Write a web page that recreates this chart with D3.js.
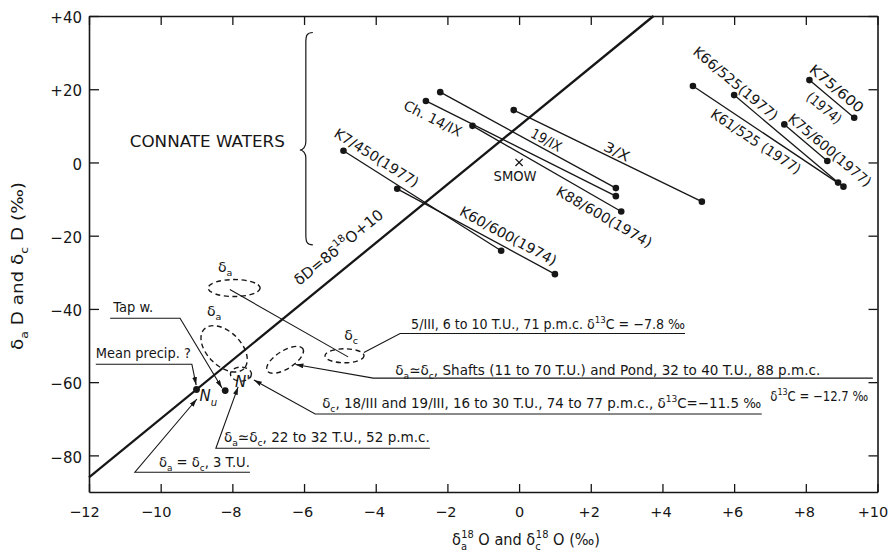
<!DOCTYPE html>
<html>
<head>
<meta charset="utf-8">
<script src="https://cdn.jsdelivr.net/npm/d3@7/dist/d3.min.js"></script>
<style>
  html, body { margin: 0; padding: 0; background: #fff; }
  svg { display: block; }
</style>
</head>
<body>
<svg id="chart" width="889" height="553"></svg>
<script>
// ---- axis ticks ----
const xTicks = [-12, -10, -8, -6, -4, -2, 0, 2, 4, 6, 8, 10];
const xTickLabels = ["−12", "−10", "−8", "−6", "−4", "−2", "0", "+2", "+4", "+6", "+8", "+10"];
const yTicks = [-80, -60, -40, -20, 0, 20, 40];
const yTickLabels = ["−80", "−60", "−40", "−20", "0", "+20", "+40"];

// ---- paired samples: (δ18O, δD) of the two members joined by a tie line ----
const sampleNames = ["19/IX", "Ch. 14/IX", "K88/600(1974)", "3/X", "K7/450(1977)", "K60/600(1974)",
                     "K66/525(1977)", "K61/525 (1977)", "K75/600(1977)", "K75/600 (1974)"];
const firstO  = [-2.2, -2.6, -1.3, -0.15, -4.9, -3.4, 6.0, 4.85, 7.4, 8.1];
const firstD  = [19.2, 16.8, 10.0, 14.3, 3.2, -7.2, 18.4, 20.9, 10.4, 22.5];
const secondO = [2.7, 2.7, 2.85, 5.1, -0.5, 1.0, 8.9, 9.05, 8.6, 9.35];
const secondD = [-7.0, -9.2, -13.4, -10.7, -24.1, -30.5, -5.5, -6.6, 0.4, 12.2];

// ---- single waters ----
const waterNames = ["Nu", "Tap w."];
const waterO = [-9.0, -8.2];
const waterD = [-62.0, -62.3];

// ---- SMOW and the meteoric water line δD = 8 δ18O + 10 ----
const smowO = 0, smowD = 0;
const mwlSlope = 8, mwlIntercept = 10;

// ---------------------------------------------------------------------------
const ink = "#161616";
const FONT = "'DejaVu Sans', sans-serif";
const svg = d3.select("#chart").attr("font-family", FONT);

const x = d3.scaleLinear().domain([-12, 10]).range([89, 877.5]);
const y = d3.scaleLinear().domain([-90, 40]).range([492, 16]);

const defs = svg.append("defs");
defs.append("marker")
  .attr("id", "arrow").attr("viewBox", "0 0 10 6")
  .attr("refX", 10).attr("refY", 3)
  .attr("markerWidth", 8).attr("markerHeight", 5)
  .attr("markerUnits", "userSpaceOnUse").attr("orient", "auto")
  .append("path").attr("d", "M0,0L10,3L0,6Z").attr("fill", ink);

// text with sub/superscripts
const sub = s => ({ s, sub: true });
const sup = (s, dx) => ({ s, sup: true, dx });
function richText(sel, parts, fs) {
  let shift = 0;
  parts.forEach(p => {
    const o = typeof p === "string" ? { s: p } : p;
    const target = o.sub ? fs * 0.3 : o.sup ? -fs * 0.45 : 0;
    const ts = sel.append("tspan").text(o.s).attr("dy", target - shift);
    if (o.sub || o.sup) ts.attr("font-size", fs * 0.68);
    if (o.dx) ts.attr("dx", o.dx);
    shift = target;
  });
  return sel;
}

// ---- axes (frame with inward ticks) ----
function styleAxis(g, fs) {
  g.attr("font-family", FONT).attr("font-size", fs);
  g.select(".domain").attr("stroke", ink).attr("stroke-width", 1.6);
  g.selectAll(".tick line").attr("stroke", ink).attr("stroke-width", 1.3);
  g.selectAll(".tick text").attr("fill", ink);
}
svg.append("g").attr("transform", `translate(0,${y(-90)})`)
  .call(d3.axisBottom(x).tickValues(xTicks).tickFormat((d, i) => xTickLabels[i])
        .tickSizeInner(-8).tickSizeOuter(0).tickPadding(15))
  .call(g => styleAxis(g, 14.5))
  .call(g => g.selectAll(".tick text")
    .attr("dx", d => d === 0 ? 0 : Math.abs(d) >= 10 ? -5 : -2));
svg.append("g").attr("transform", `translate(${x(-12)},0)`)
  .call(d3.axisLeft(y).tickValues(yTicks).tickFormat((d, i) => yTickLabels[i])
        .tickSizeInner(-10).tickSizeOuter(0).tickPadding(7))
  .call(g => styleAxis(g, 15))
  .call(g => g.selectAll(".tick text").attr("dy", "0.45em"));
svg.append("g").attr("transform", `translate(0,${y(40)})`)
  .call(d3.axisTop(x).tickValues(xTicks).tickFormat("").tickSizeInner(-9).tickSizeOuter(0))
  .call(g => styleAxis(g, 15));
svg.append("g").attr("transform", `translate(${x(10)},0)`)
  .call(d3.axisRight(y).tickValues(yTicks).tickFormat("").tickSizeInner(-9).tickSizeOuter(0))
  .call(g => styleAxis(g, 15));

// axis titles
richText(svg.append("text").attr("fill", ink).attr("font-size", 15)
  .attr("text-anchor", "middle").attr("x", 526).attr("y", 545)
  .attr("textLength", 148).attr("lengthAdjust", "spacingAndGlyphs"),
  ["δ", sub("a"), sup("18", -6), " O and δ", sub("c"), sup("18", -5), " O (‰)"], 15);
richText(svg.append("text").attr("fill", ink).attr("font-size", 15)
  .attr("text-anchor", "middle")
  .attr("transform", "translate(23,266) rotate(-90)")
  .attr("textLength", 168).attr("lengthAdjust", "spacingAndGlyphs"),
  ["δ", sub("a"), " D and δ", sub("c"), " D (‰)"], 15);

// ---- meteoric water line ----
const mwl = o => mwlSlope * o + mwlIntercept;
const mwlEnd = (40 - mwlIntercept) / mwlSlope;
svg.append("path")
  .datum([-12, mwlEnd])
  .attr("d", d3.line().x(o => x(o)).y(o => y(mwl(o))))
  .attr("stroke", ink).attr("stroke-width", 2.3).attr("fill", "none");

// placement helper: point at fraction t along a pixel segment, offset along its normal
function along(x1, y1, x2, y2, t, off) {
  const dx = x2 - x1, dy = y2 - y1, L = Math.hypot(dx, dy);
  const ux = dx / L, uy = dy / L;
  return {
    cx: x1 + dx * t - uy * off,
    cy: y1 + dy * t + ux * off,
    angle: Math.atan2(uy, ux) * 180 / Math.PI
  };
}

{
  const p = along(x(-12), y(mwl(-12)), x(mwlEnd), y(40), 0, 0);
  const o = -4.68;
  const q = along(x(o), y(mwl(o)), x(o + 1), y(mwl(o + 1)), 0, -15);
  richText(svg.append("text").attr("fill", ink).attr("font-size", 15)
    .attr("text-anchor", "middle").attr("dy", "0.36em")
    .attr("transform", `translate(${q.cx},${q.cy}) rotate(${p.angle})`)
    .attr("textLength", 110).attr("lengthAdjust", "spacingAndGlyphs"),
    ["δD=8δ", sup("18"), "O+10"], 15);
}

// ---- tie lines and sample points ----
const samples = sampleNames.map((name, i) => ({
  name, o1: firstO[i], d1: firstD[i], o2: secondO[i], d2: secondD[i]
}));
const gS = svg.append("g");
gS.selectAll("line").data(samples).join("line")
  .attr("x1", d => x(d.o1)).attr("y1", d => y(d.d1))
  .attr("x2", d => x(d.o2)).attr("y2", d => y(d.d2))
  .attr("stroke", ink).attr("stroke-width", 1.3);
const ends = samples.flatMap(d => [[d.o1, d.d1], [d.o2, d.d2]]);
gS.selectAll("circle").data(ends).join("circle")
  .attr("cx", d => x(d[0])).attr("cy", d => y(d[1])).attr("r", 3.3).attr("fill", ink);

// sample labels set along their tie lines
const sampleLabelLayout = [
  { i: 0, t: 0.58, off: -9, len: 33 },
  { i: 1, t: 0.066, off: 12.5, len: 63 },
  { i: 2, t: 0.93, off: 13, len: 108 },
  { i: 3, t: 0.53, off: -8, len: 27 },
  { i: 4, t: 0.17, off: -12, len: 97 },
  { i: 5, t: 0.67, off: -11.5, len: 108 },
  { i: 6, t: -0.046, off: -10, len: 106 },
  { i: 7, t: 0.46, off: 11, len: 105 },
  { i: 8, t: 0.91, off: -10, len: 104 },
  { i: 9, part: 0, t: 0.45, off: -11.2, len: 66 },
  { i: 9, part: 1, t: 0.50, off: 11.7, len: 41 }
];
sampleLabelLayout.forEach(l => {
  const d = samples[l.i];
  const txt = l.part === undefined ? d.name : d.name.split(" ")[l.part];
  const p = along(x(d.o1), y(d.d1), x(d.o2), y(d.d2), l.t, l.off);
  svg.append("text").text(txt).attr("fill", ink).attr("font-size", 14)
    .attr("text-anchor", "middle").attr("dy", "0.36em")
    .attr("transform", `translate(${p.cx},${p.cy}) rotate(${p.angle})`)
    .attr("textLength", l.len).attr("lengthAdjust", "spacingAndGlyphs");
});

// ---- SMOW ----
{
  const cx = x(smowO), cy = y(smowD), s = 3.6;
  svg.append("path").attr("d", `M${cx - s},${cy - s}L${cx + s},${cy + s}M${cx + s},${cy - s}L${cx - s},${cy + s}`)
    .attr("stroke", ink).attr("stroke-width", 1.3);
  svg.append("text").text("SMOW").attr("fill", ink).attr("font-size", 14)
    .attr("x", cx - 4).attr("y", cy + 19).attr("text-anchor", "middle")
    .attr("textLength", 43).attr("lengthAdjust", "spacingAndGlyphs");
}

// ---- connate waters brace ----
{
  const xb = x(-5.95), yt = y(35.5), ym = y(3.4), yb = y(-22.5);
  svg.append("path")
    .attr("d", `M${xb + 7},${yt} C${xb + 1},${yt} ${xb},${yt + 3} ${xb},${yt + 10}
                L${xb},${ym - 8} C${xb},${ym - 3} ${xb - 3},${ym} ${xb - 6},${ym}
                C${xb - 3},${ym} ${xb},${ym + 3} ${xb},${ym + 8}
                L${xb},${yb - 10} C${xb},${yb - 3} ${xb + 1},${yb} ${xb + 7},${yb}`)
    .attr("fill", "none").attr("stroke", ink).attr("stroke-width", 1.2);
  svg.append("text").text("CONNATE WATERS").attr("fill", ink).attr("font-size", 15)
    .attr("x", x(-8.7)).attr("y", y(4.3)).attr("text-anchor", "middle")
    .attr("textLength", 155).attr("lengthAdjust", "spacingAndGlyphs");
}

// ---- sampled fields (dashed outlines) ----
const fields = [
  { o: -7.95, d: -34.3, rx: 26, ry: 8.5, rot: 0, label: ["δ", sub("a")], lx: -9, ly: -16 },
  { o: -8.23, d: -50.9, rx: 28, ry: 17, rot: 45, label: ["δ", sub("a")], lx: -10, ly: -33 },
  { o: -7.76, d: -57.8, rx: 10.5, ry: 7, rot: 0 },
  { o: -4.87, d: -52.8, rx: 19.5, ry: 7, rot: 0, label: ["δ", sub("c")], lx: 6.5, ly: -16 },
  { o: -6.53, d: -53.9, rx: 21, ry: 9, rot: -32 }
];
fields.forEach(f => {
  const cx = x(f.o), cy = y(f.d);
  svg.append("ellipse")
    .attr("transform", `translate(${cx},${cy}) rotate(${f.rot})`)
    .attr("rx", f.rx).attr("ry", f.ry)
    .attr("fill", "none").attr("stroke", ink).attr("stroke-width", 1.4)
    .attr("stroke-dasharray", "5,3.5");
  if (f.label) {
    richText(svg.append("text").attr("fill", ink).attr("font-size", 14)
      .attr("x", cx + f.lx).attr("y", cy + f.ly).attr("text-anchor", "middle"), f.label, 14);
  }
});

// ---- single water points ----
const waters = waterNames.map((n, i) => ({ n, o: waterO[i], d: waterD[i] }));
svg.selectAll("circle.water").data(waters).join("circle").attr("class", "water")
  .attr("cx", d => x(d.o)).attr("cy", d => y(d.d)).attr("r", 3.4).attr("fill", ink);
richText(svg.append("text").attr("fill", ink).attr("font-size", 15).attr("font-style", "italic")
  .attr("x", x(waters[0].o) + 3).attr("y", y(waters[0].d) + 12), ["N", sub("u")], 15);
svg.append("text").text("N'").attr("fill", ink).attr("font-size", 15).attr("font-style", "italic")
  .attr("x", x(-7.76) - 6).attr("y", y(-57.8) + 13);

// ---- annotation leaders and texts ----
const notes = [
  { pts: [[-8.07, -34.7], [-4.77, -53.1]] },
  { pts: [[-4.33, -51.9], [-3.32, -46.7], [4.63, -46.7]], at: 1, dx: 11, dy: -4.5, len: 274,
    text: ["5/III, 6 to 10 T.U., 71 p.m.c. δ", sup("13"), "C = −7.8 ‰"] },
  { pts: [[9.87, -58.9], [-4.07, -58.9], [-6.24, -55.2]], arrow: true, at: 1, dx: 22, dy: -3, len: 425,
    text: ["δ", sub("a"), "≃δ", sub("c"), ", Shafts (11 to 70 T.U.) and Pond, 32 to 40 T.U., 88 p.m.c."] },
  { pts: [[-4.07, -58.9]], at: 0, dx: 397, dy: 22.5, len: 98,
    text: ["δ", sup("13"), "C = −12.7 ‰"] },
  { pts: [[6.77, -68.7], [-5.69, -68.7], [-7.40, -59.4]], arrow: true, at: 1, dx: 7, dy: -6, len: 439,
    text: ["δ", sub("c"), ", 18/III and 19/III, 16 to 30 T.U., 74 to 77 p.m.c., δ", sup("13"), "C=−11.5 ‰"] },
  { pts: [[-2.49, -78.05], [-8.46, -78.05], [-7.84, -61.3]], arrow: true, at: 1, dx: 8, dy: -6, len: 206,
    text: ["δ", sub("a"), "≃δ", sub("c"), ", 22 to 32 T.U., 52 p.m.c."] },
  { pts: [[-7.51, -84.6], [-10.72, -84.6], [-8.99, -64.6]], arrow: true, at: 1, dx: 24, dy: -5, len: 91,
    text: ["δ", sub("a"), " = δ", sub("c"), ", 3 T.U."] },
  { pts: [[-11.81, -55.1], [-9.13, -55.1], [-9.01, -60.8]], arrow: true, at: 0, dx: 0, dy: -6.5, len: 95,
    text: ["Mean precip. ?"] },
  { pts: [[-11.41, -42.55], [-9.46, -42.55], [-8.29, -61.6]], arrow: true, at: 0, dx: 3, dy: -6.5, len: 40,
    text: [waterNames[1]] }
];
const lineGen = d3.line().x(p => x(p[0])).y(p => y(p[1]));
notes.forEach(n => {
  if (n.pts.length > 1) {
    const path = svg.append("path").attr("d", lineGen(n.pts))
      .attr("fill", "none").attr("stroke", ink).attr("stroke-width", 1.1);
    if (n.arrow) path.attr("marker-end", "url(#arrow)");
  }
  if (n.text) {
    const a = n.pts[n.at];
    richText(svg.append("text").attr("fill", ink).attr("font-size", 13.5)
      .attr("x", x(a[0]) + n.dx).attr("y", y(a[1]) + n.dy)
      .attr("textLength", n.len).attr("lengthAdjust", "spacingAndGlyphs"), n.text, 13.5);
  }
});
</script>
</body>
</html>
